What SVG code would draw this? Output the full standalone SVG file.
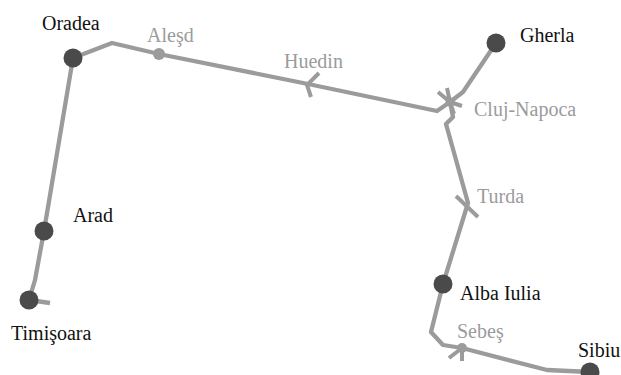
<svg xmlns="http://www.w3.org/2000/svg" width="621" height="375" viewBox="0 0 621 375">
<style>
.track{fill:none;stroke:#9b9b9b;stroke-width:4.3;stroke-linejoin:round;stroke-linecap:butt}
.tick{fill:none;stroke:#9b9b9b;stroke-width:4}
.city{fill:#4a4a4a}
.stop{fill:#9b9b9b}
.lbl{font-family:"Liberation Serif",serif;font-size:20px}
.major{fill:#111}
.minor{fill:#9b9b9b}
</style>
<rect width="621" height="375" fill="#fff"/>
<g id="connectors">
<polyline class="track" points="50,303 29,300 35,280 44,231 73,58 112,43 159,54 308,84 437,111 450,102 463,92 496,43"/>
<polyline class="track" points="450,102 453,117 446,124 468,203 443,284 431,332 443,345 462,348 547,370 590,372"/>
</g>
<g id="Oradea"><circle class="city" cx="73" cy="58" r="9.5"/><text class="lbl major" x="42" y="30">Oradea</text></g>
<g id="Alesd"><circle class="stop" cx="159" cy="54" r="6"/><text class="lbl minor" x="147" y="42">Aleşd</text></g>
<g id="Huedin"><path class="tick" d="M319,73 L307,85 L311,97"/><text class="lbl minor" x="284" y="68">Huedin</text></g>
<g id="Cluj-Napoca"><path class="tick" d="M450,102 L447,88 M450,102 L438,92 M450,102 L462,106 M450,102 L454,114"/><circle class="stop" cx="450" cy="102" r="4.5"/><text class="lbl minor" x="474" y="116">Cluj-Napoca</text></g>
<g id="Gherla"><circle class="city" cx="496" cy="43" r="9.5"/><text class="lbl major" x="520" y="42">Gherla</text></g>
<g id="Turda"><path class="tick" d="M456,196 L478,217"/><text class="lbl minor" x="477" y="203">Turda</text></g>
<g id="Arad"><circle class="city" cx="44" cy="231" r="9.5"/><text class="lbl major" x="73" y="222">Arad</text></g>
<g id="Timisoara"><circle class="city" cx="29" cy="300" r="9.5"/><text class="lbl major" x="11" y="340">Timişoara</text></g>
<g id="AlbaIulia"><circle class="city" cx="443" cy="284" r="9.5"/><text class="lbl major" x="460" y="300">Alba Iulia</text></g>
<g id="Sebes"><path class="tick" d="M462,348 L462,361 M462,348 L449,358"/><circle class="stop" cx="462" cy="348" r="5"/><text class="lbl minor" x="457" y="338">Sebeş</text></g>
<g id="Sibiu"><circle class="city" cx="590" cy="372" r="9.5"/><text class="lbl major" x="578" y="357">Sibiu</text></g>
</svg>
